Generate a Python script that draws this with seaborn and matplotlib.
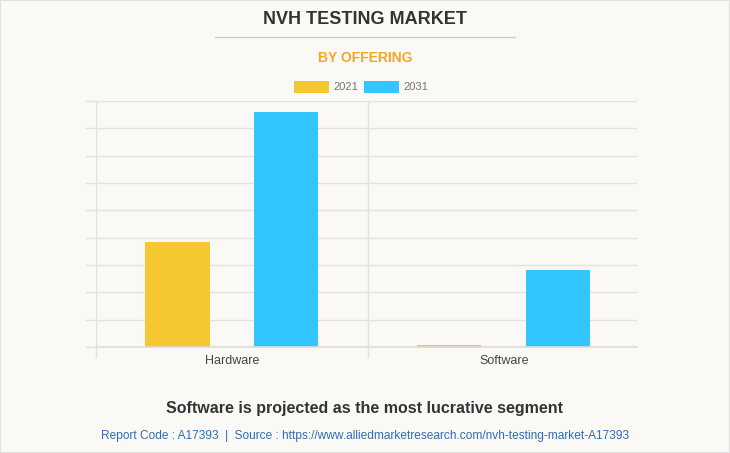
import pandas as pd
import numpy as np
import matplotlib
matplotlib.use('Agg')
import matplotlib.pyplot as plt
from matplotlib.patches import Rectangle
from matplotlib.lines import Line2D
import seaborn as sns

# 数据
offerings = ['Hardware', 'Software']
years = ['2021', '2031']
values_2021 = [3.84, 0.07]
values_2031 = [8.6, 2.82]
colors = {'2021': '#F5C831', '2031': '#32C5FF'}

df = pd.DataFrame({
    'offering': offerings * 2,
    'year': ['2021'] * 2 + ['2031'] * 2,
    'value': values_2021 + values_2031,
})

sns.set_theme(style='white')
plt.rcParams['font.family'] = ['Liberation Sans', 'DejaVu Sans']

bg = '#FAF9F5'
fig = plt.figure(figsize=(7.3, 4.53), dpi=100, facecolor=bg)
ax = fig.add_axes([0.1315, 0.234, 0.741, 0.543], facecolor=bg)

sns.barplot(data=df, x='offering', y='value', hue='year', palette=colors,
            width=0.8, gap=0.41, ax=ax, legend=False, saturation=1,
            edgecolor='none')

ax.set_xlim(-0.5, 1.49)
ax.set_ylim(0, 9)
ax.set_yticks(np.arange(0, 10, 1))
ax.set_yticklabels([])
ax.set_xlabel('')
ax.set_ylabel('')

# 网格
ax.grid(axis='y', color='#E3E2DE', linewidth=1)
ax.set_xticks([-0.5, 0.5], minor=True)
ax.grid(axis='x', which='minor', color='#E3E2DE', linewidth=1)
ax.set_axisbelow(True)
ax.tick_params(axis='y', which='major', length=8, color='#E3E2DE', width=1, left=True)
ax.tick_params(axis='x', which='minor', length=8, color='#E3E2DE', width=1, bottom=True)
ax.tick_params(axis='x', which='major', length=0, labelsize=9, labelcolor='#444444', pad=6)
for s in ['top', 'right', 'left']:
    ax.spines[s].set_visible(False)
ax.spines['bottom'].set_color('#DDDCD8')
ax.spines['bottom'].set_linewidth(1.2)

# 标题
fig.text(0.5, 1 - 20 / 453, 'NVH TESTING MARKET', ha='center', va='center',
         fontsize=13, fontweight='bold', color='#333333')
fig.add_artist(Line2D([215 / 730, 515 / 730], [1 - 37 / 453] * 2, color='#CCCCCC', linewidth=1))
fig.text(0.5, 1 - 58 / 453, 'BY OFFERING', ha='center', va='center',
         fontsize=10, fontweight='bold', color='#F5A623')

# 图例
for x0, yr in [(294, '2021'), (364, '2031')]:
    fig.add_artist(Rectangle((x0 / 730, 1 - 93 / 453), 35 / 730, 12 / 453,
                             transform=fig.transFigure, facecolor=colors[yr], edgecolor='none'))
    fig.text((x0 + 39) / 730, 1 - 87 / 453, yr, ha='left', va='center',
             fontsize=8, color='#777777')

fig.text(0.5, 1 - 408 / 453, 'Software is projected as the most lucrative segment',
         ha='center', va='center', fontsize=11.5, fontweight='bold', color='#333333')
fig.text(0.5, 1 - 436 / 453,
         'Report Code : A17393  |  Source : https://www.alliedmarketresearch.com/nvh-testing-market-A17393',
         ha='center', va='center', fontsize=8.6, color='#2F6DB5')

fig.add_artist(Rectangle((0, 0), 1, 1, transform=fig.transFigure, fill=False,
                         edgecolor='#E0E0E0', linewidth=1.5))

plt.savefig('out.png', dpi=100, facecolor=bg)
